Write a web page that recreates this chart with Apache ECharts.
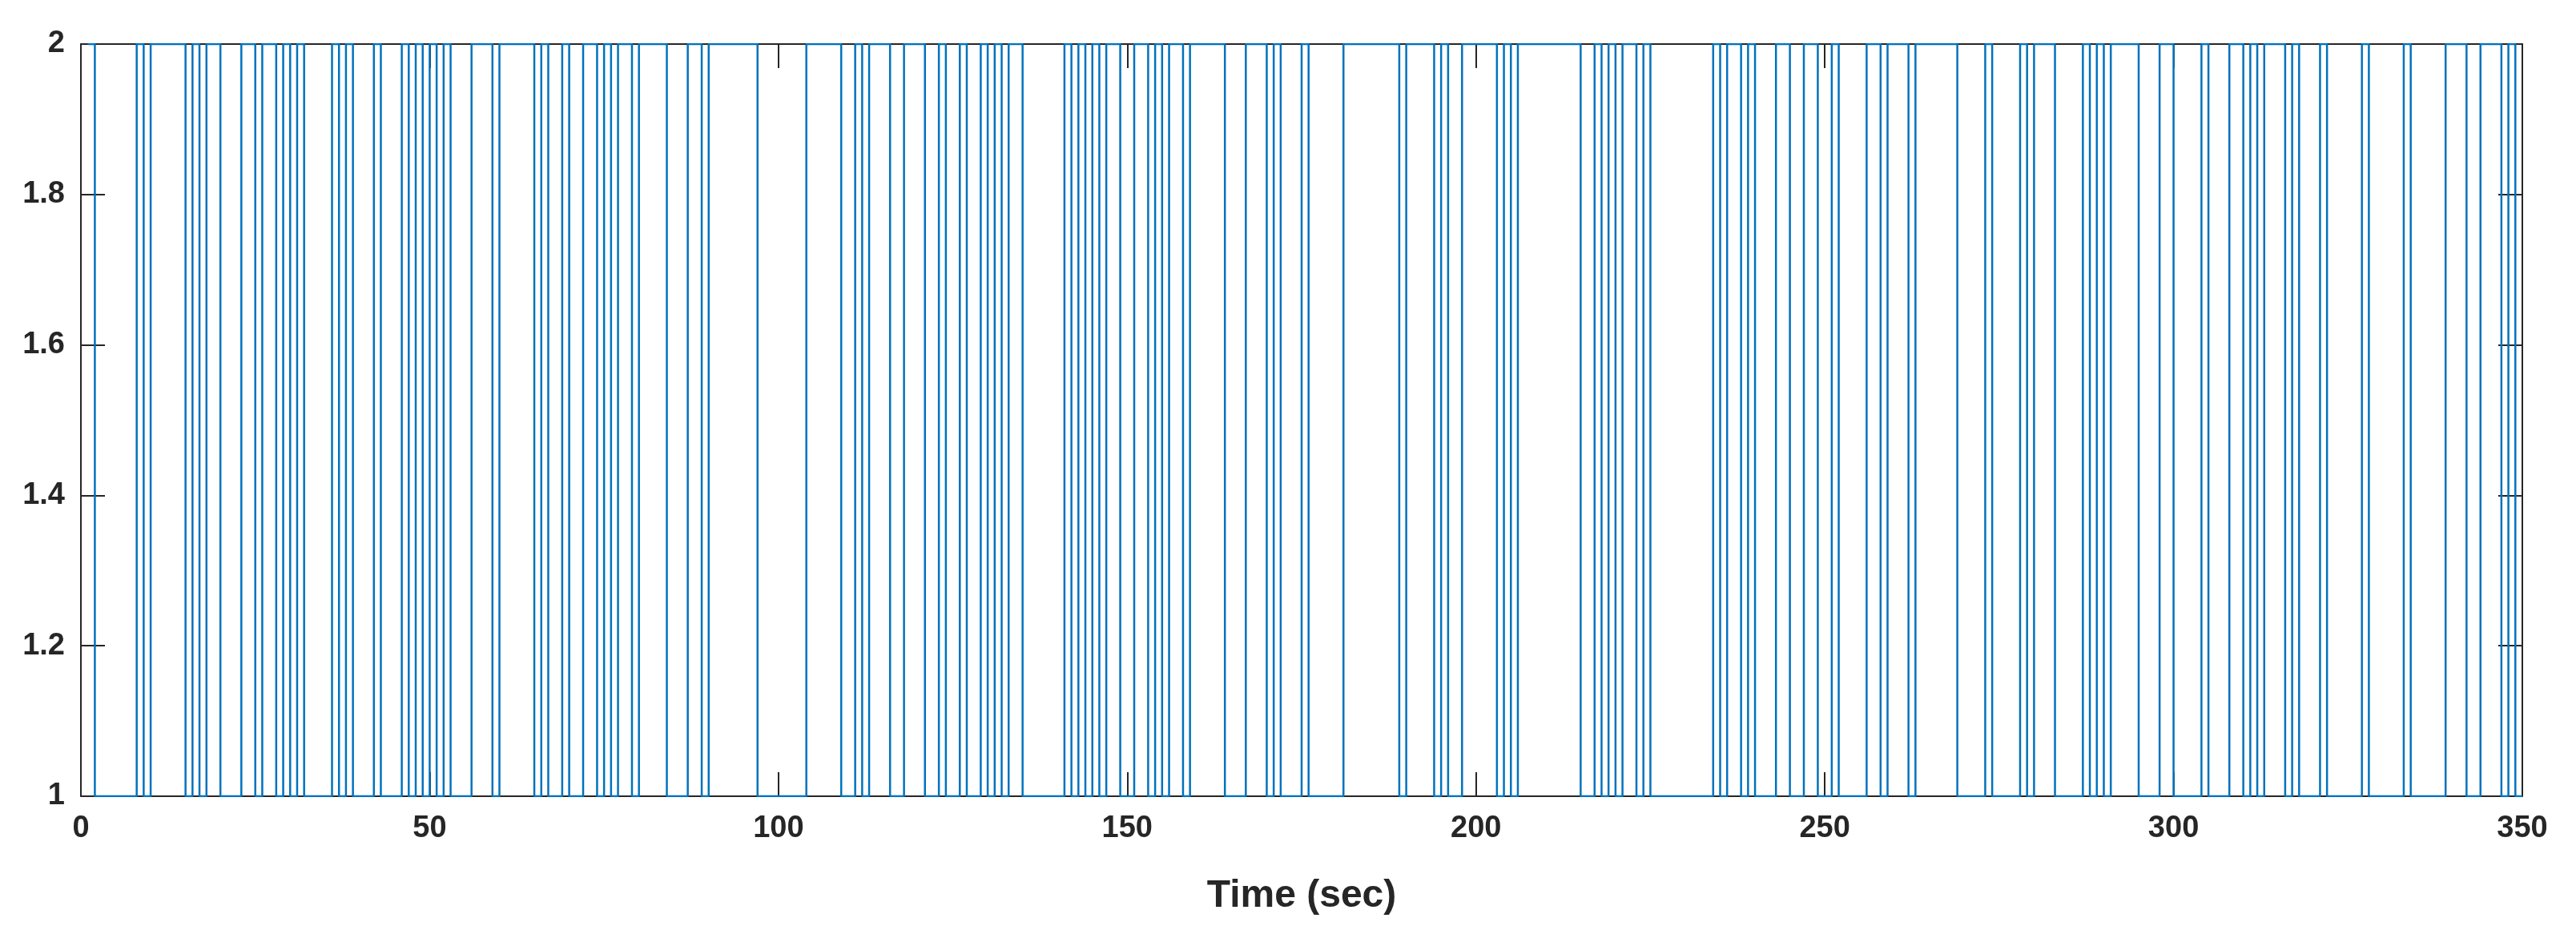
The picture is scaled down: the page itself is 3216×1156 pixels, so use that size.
<!DOCTYPE html>
<html>
<head>
<meta charset="utf-8">
<title>State vs time</title>
<script src="https://cdn.jsdelivr.net/npm/echarts@6/dist/echarts.min.js"></script>
<style>
  html, body { margin: 0; padding: 0; background: #fff; }
  #chart { width: 3216px; height: 1156px; }
</style>
</head>
<body>
<div id="chart"></div>
<script>
// times (sec) where the state changes; the state holds until the next time
var changeTimes = [
  1, 2, 8, 9, 10, 15, 16, 17, 18, 20, 23, 25, 26, 28, 29, 30, 31, 32, 36, 37, 38, 39, 42, 43, 46, 47, 48, 49, 50, 51, 52, 53, 56,
  59, 60, 65, 66, 67, 69, 70, 72, 74, 75, 76, 77, 79, 80, 84, 87, 89, 90, 97, 104, 109, 111, 112, 113, 116,
  118, 121, 123, 124, 126, 127, 129, 130, 131, 132, 133, 135, 141, 142, 143, 144, 145, 146, 147, 149, 151, 153, 154, 155, 156, 158, 159, 164, 167, 170, 171, 172, 175,
  176, 181, 189, 190, 194, 195, 196, 198, 203, 204, 205, 206, 215, 217, 218, 219, 220, 221, 223, 224, 225, 234,
  235, 236, 238, 239, 240, 243, 245, 247, 249, 251, 252, 256, 258, 259, 262, 263, 269, 273, 274, 278, 279, 280, 283, 287, 288, 289, 290, 291,
  295, 298, 300, 304, 305, 308, 310, 311, 312, 313, 316, 317, 318, 321, 322, 327, 328, 333, 334, 339, 342, 344, 347, 348, 349
]
// state value at each change time
var states = [
  2, 1, 2, 1, 2, 1, 2, 1, 2, 1, 2, 1, 2, 1, 2, 1, 2, 1, 2, 1, 2, 1, 2, 1, 2, 1, 2, 1, 2, 1, 2, 1, 2,
  1, 2, 1, 2, 1, 2, 1, 2, 1, 2, 1, 2, 1, 2, 1, 2, 1, 2, 1, 2, 1, 2, 1, 2, 1,
  2, 1, 2, 1, 2, 1, 2, 1, 2, 1, 2, 1, 2, 1, 2, 1, 2, 1, 2, 1, 2, 1, 2, 1, 2, 1, 2, 1, 2, 1, 2, 1, 2,
  1, 2, 1, 2, 1, 2, 1, 2, 1, 2, 1, 2, 1, 2, 1, 2, 1, 2, 1, 2, 1, 2,
  1, 2, 1, 2, 1, 2, 1, 2, 1, 2, 1, 2, 1, 2, 1, 2, 1, 2, 1, 2, 1, 2, 1, 2, 1, 2, 1, 2,
  1, 2, 1, 2, 1, 2, 1, 2, 1, 2, 1, 2, 1, 2, 1, 2, 1, 2, 1, 2, 1, 2, 1, 2, 1
]
var endTime = 350
var xTicks = [0, 50, 100, 150, 200, 250, 300, 350]
var yTicks = [1, 1.2, 1.4, 1.6, 1.8, 2]

var seriesData = changeTimes.map(function (t, i) { return [t, states[i]] })
seriesData.push([endTime, states[states.length - 1]])

var chartDom = document.getElementById('chart')
var myChart = echarts.init(chartDom)

var axisColor = '#262626'
var labelFont = {
  color: '#262626',
  fontFamily: 'Liberation Sans, Arial, sans-serif',
  fontWeight: 'bold',
  fontSize: 38
}

var option = {
  animation: false,
  backgroundColor: '#ffffff',
  grid: { left: 101, right: 67, top: 55, bottom: 162, containLabel: false },
  xAxis: [
    {
      type: 'value',
      min: xTicks[0],
      max: xTicks[xTicks.length - 1],
      interval: xTicks[1] - xTicks[0],
      name: 'Time (sec)',
      nameLocation: 'middle',
      nameGap: 101,
      nameTextStyle: Object.assign({}, labelFont, { fontSize: 48 }),
      axisLine: { onZero: false, lineStyle: { color: axisColor, width: 2 } },
      axisTick: { inside: true, length: 30, lineStyle: { color: axisColor, width: 2 } },
      axisLabel: Object.assign({ margin: 22 }, labelFont),
      splitLine: { show: false }
    },
    {
      type: 'value',
      position: 'top',
      min: xTicks[0],
      max: xTicks[xTicks.length - 1],
      interval: xTicks[1] - xTicks[0],
      axisLine: { onZero: false, lineStyle: { color: axisColor, width: 2 } },
      axisTick: { inside: true, length: 30, lineStyle: { color: axisColor, width: 2 } },
      axisLabel: { show: false },
      splitLine: { show: false }
    }
  ],
  yAxis: [
    {
      type: 'value',
      min: yTicks[0],
      max: yTicks[yTicks.length - 1],
      interval: 0.2,
      axisLine: { show: true, onZero: false, lineStyle: { color: axisColor, width: 2 } },
      axisTick: { show: true, inside: true, length: 30, lineStyle: { color: axisColor, width: 2 } },
      axisLabel: Object.assign({ margin: 20 }, labelFont),
      splitLine: { show: false }
    },
    {
      type: 'value',
      position: 'right',
      min: yTicks[0],
      max: yTicks[yTicks.length - 1],
      interval: 0.2,
      axisLine: { show: true, onZero: false, lineStyle: { color: axisColor, width: 2 } },
      axisTick: { show: true, inside: true, length: 30, lineStyle: { color: axisColor, width: 2 } },
      axisLabel: { show: false },
      splitLine: { show: false }
    }
  ],
  series: [
    {
      name: 'State',
      type: 'line',
      step: 'end',
      xAxisIndex: 0,
      yAxisIndex: 0,
      data: seriesData,
      showSymbol: false,
      symbol: 'none',
      lineStyle: { color: '#0072BD', width: 2.5 },
      z: 5
    }
  ]
}

option && myChart.setOption(option)
window.onresize = () => {
  myChart.resize()
}
</script>
</body>
</html>
